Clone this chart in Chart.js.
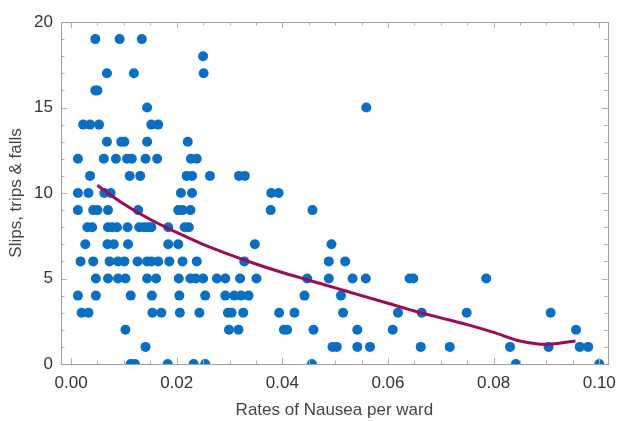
<!DOCTYPE html>
<html>
<head>
<meta charset="utf-8">
<script src="https://cdn.jsdelivr.net/npm/chart.js@4/dist/chart.umd.min.js"></script>
<style>
  html, body { margin: 0; padding: 0; background: #fff; }
  #wrap { width: 625px; height: 421px; }
</style>
</head>
<body>
<div id="wrap"><canvas id="nauseaChart"></canvas></div>
<script>
// falls per ward (y) and the nausea rates of the wards at that count (x)
const fallLevels = [19, 18, 17, 16, 15, 14, 13, 12, 11, 10, 9, 8, 7, 6, 5, 4, 3, 2, 1, 0];
const nauseaByLevel = [
  [0.0046, 0.0092, 0.0134],
  [0.0250],
  [0.0068, 0.0119, 0.0251],
  [0.0046, 0.0050],
  [0.0144, 0.0559],
  [0.0023, 0.0036, 0.0053, 0.0152, 0.0165],
  [0.0068, 0.0095, 0.0101, 0.0144, 0.0221],
  [0.0013, 0.0062, 0.0085, 0.0106, 0.0115, 0.0141, 0.0163, 0.0227, 0.0238],
  [0.0036, 0.0111, 0.0131, 0.0219, 0.0229, 0.0263, 0.0318, 0.0329],
  [0.0013, 0.0033, 0.0063, 0.0075, 0.0208, 0.0229, 0.0379, 0.0393],
  [0.0013, 0.0042, 0.0050, 0.0070, 0.0127, 0.0203, 0.0211, 0.0226, 0.0378, 0.0457],
  [0.0031, 0.0040, 0.0070, 0.0078, 0.0087, 0.0107, 0.0129, 0.0138, 0.0145, 0.0152, 0.0184, 0.0215, 0.0223],
  [0.0027, 0.0069, 0.0081, 0.0108, 0.0184, 0.0203, 0.0348, 0.0493],
  [0.0018, 0.0042, 0.0073, 0.0089, 0.0101, 0.0126, 0.0144, 0.0152, 0.0165, 0.0186, 0.0211, 0.0238, 0.0328, 0.0488, 0.0519],
  [0.0047, 0.0070, 0.0089, 0.0103, 0.0144, 0.0161, 0.0204, 0.0226, 0.0236, 0.0250, 0.0276, 0.0292, 0.0320, 0.0351, 0.0447, 0.0488, 0.0533, 0.0558, 0.0641, 0.0648, 0.0786],
  [0.0013, 0.0047, 0.0113, 0.0153, 0.0205, 0.0254, 0.0292, 0.0309, 0.0322, 0.0336, 0.0442, 0.0511],
  [0.0020, 0.0033, 0.0154, 0.0171, 0.0206, 0.0243, 0.0297, 0.0304, 0.0326, 0.0394, 0.0423, 0.0515, 0.0619, 0.0664, 0.0749, 0.0908],
  [0.0103, 0.0299, 0.0317, 0.0403, 0.0409, 0.0459, 0.0542, 0.0609, 0.0956],
  [0.0141, 0.0495, 0.0503, 0.0542, 0.0566, 0.0662, 0.0717, 0.0831, 0.0904, 0.0963, 0.0979],
  [0.0113, 0.0121, 0.0183, 0.0232, 0.0254, 0.0456, 0.0842, 0.1000]
];

// fitted trend line
const trendX = [0.005, 0.010, 0.015, 0.020, 0.025, 0.030, 0.035, 0.040, 0.045, 0.050, 0.055, 0.060, 0.065, 0.070, 0.075, 0.080, 0.085, 0.090, 0.0955];
const trendY = [10.45, 9.35, 8.45, 7.7, 7.0, 6.4, 5.85, 5.35, 4.9, 4.45, 4.0, 3.55, 3.1, 2.7, 2.3, 1.85, 1.35, 1.15, 1.35];

const xTickValues = [0, 0.02, 0.04, 0.06, 0.08, 0.10];
const yTickValues = [0, 5, 10, 15, 20];

const wardPoints = [];
fallLevels.forEach((level, i) => {
  nauseaByLevel[i].forEach(rate => wardPoints.push({ x: rate, y: level }));
});
const trendPoints = trendX.map((x, i) => ({ x: x, y: trendY[i] }));

// Mathematica style frame with inward ticks on all four sides
const framePlugin = {
  id: 'frame',
  afterDraw(chart) {
    const { ctx, chartArea: a, scales } = chart;
    const xs = scales.x, ys = scales.y;
    ctx.save();
    ctx.strokeStyle = '#b0b0b0';
    ctx.lineWidth = 1;
    for (let v = 0; v <= 0.1001; v += 0.005) {
      const px = Math.round(xs.getPixelForValue(v)) + 0.5;
      const len = Math.abs(v / 0.02 - Math.round(v / 0.02)) < 1e-6 ? 6 : 3.5;
      ctx.beginPath();
      ctx.moveTo(px, a.bottom); ctx.lineTo(px, a.bottom - len);
      ctx.moveTo(px, a.top); ctx.lineTo(px, a.top + len);
      ctx.stroke();
    }
    for (let v = 0; v <= 20; v += 1) {
      const py = Math.round(ys.getPixelForValue(v)) + 0.5;
      const len = v % 5 === 0 ? 6 : 3.5;
      ctx.beginPath();
      ctx.moveTo(a.left, py); ctx.lineTo(a.left + len, py);
      ctx.moveTo(a.right, py); ctx.lineTo(a.right - len, py);
      ctx.stroke();
    }
    ctx.strokeStyle = '#a0a0a0';
    ctx.strokeRect(Math.round(a.left) + 0.5, Math.round(a.top) + 0.5,
      Math.round(a.right - a.left), Math.round(a.bottom - a.top));
    ctx.restore();
  }
};

const ctx = document.getElementById('nauseaChart').getContext('2d');

new Chart(ctx, {
  type: 'scatter',
  data: {
    datasets: [
      {
        label: 'Wards',
        data: wardPoints,
        backgroundColor: '#0a6fc2',
        borderColor: '#0a6fc2',
        pointRadius: 5,
        pointBorderWidth: 0,
        clip: 0,
        order: 2
      },
      {
        label: 'Trend',
        type: 'line',
        data: trendPoints,
        borderColor: '#9c0b58',
        borderWidth: 3,
        pointRadius: 0,
        fill: false,
        cubicInterpolationMode: 'monotone',
        clip: 0,
        order: 1
      }
    ]
  },
  options: {
    responsive: true,
    maintainAspectRatio: false,
    animation: false,
    devicePixelRatio: 1,
    layout: { padding: { left: 0, right: 12, top: 22, bottom: 0 } },
    plugins: {
      legend: { display: false },
      tooltip: { enabled: false }
    },
    scales: {
      x: {
        type: 'linear',
        min: -0.0019,
        max: 0.1016,
        afterBuildTicks: (scale) => { scale.ticks = xTickValues.map(v => ({ value: v })); },
        afterFit: (scale) => { scale.height = 57; },
        grid: { display: false, drawTicks: false },
        border: { display: false },
        ticks: {
          padding: 9,
          color: '#333',
          font: { family: 'Liberation Sans', size: 17 },
          maxRotation: 0,
          callback: (v) => Number(v).toFixed(2)
        },
        title: {
          display: true,
          text: 'Rates of Nausea per ward',
          color: '#444',
          font: { family: 'Liberation Sans', size: 17 },
          padding: { top: 0, bottom: 0 }
        }
      },
      y: {
        type: 'linear',
        min: 0,
        max: 20,
        afterBuildTicks: (scale) => { scale.ticks = yTickValues.map(v => ({ value: v })); },
        afterFit: (scale) => { scale.width = 61; },
        grid: { display: false, drawTicks: false },
        border: { display: false },
        ticks: {
          padding: 8,
          color: '#333',
          font: { family: 'Liberation Sans', size: 17 }
        },
        title: {
          display: true,
          text: 'Slips, trips & falls',
          color: '#444',
          font: { family: 'Liberation Sans', size: 17 },
          padding: { top: 6, bottom: 0 }
        }
      }
    }
  },
  plugins: [framePlugin]
});
</script>
</body>
</html>
